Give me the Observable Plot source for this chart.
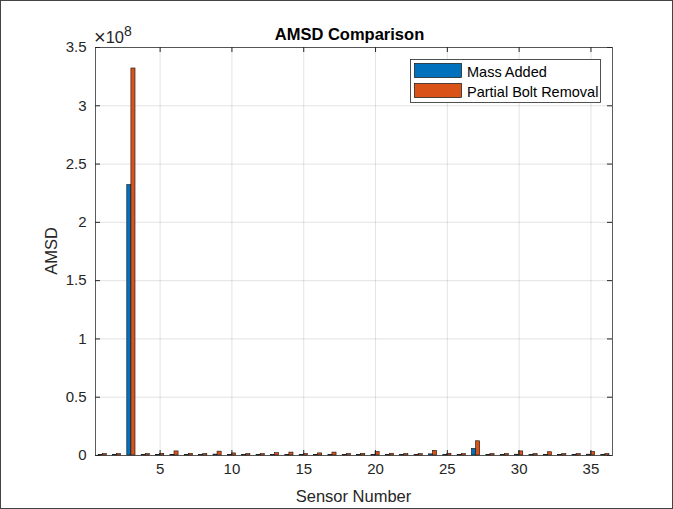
<!DOCTYPE html>
<html><head><meta charset="utf-8">
<script src="https://cdn.jsdelivr.net/npm/d3@7"></script>
<script src="https://cdn.jsdelivr.net/npm/@observablehq/plot@0.6"></script>
<style>
html,body{margin:0;padding:0;background:#fff;}
#chart{width:673px;height:509px;overflow:hidden;}
svg{display:block;}
</style></head><body><div id="chart"></div>
<script>
// ---- data (values in units of 1e8) ----
const sensors = [1,2,3,4,5,6,7,8,9,10,11,12,13,14,15,16,17,18,19,20,21,22,23,24,25,26,27,28,29,30,31,32,33,34,35,36];
const massAdded = [0.003,0.003,2.32,0.003,0.004,0.006,0.003,0.003,0.008,0.004,0.003,0.003,0.004,0.004,0.003,0.003,0.004,0.003,0.003,0.005,0.003,0.003,0.003,0.010,0.004,0.003,0.057,0.003,0.003,0.007,0.003,0.004,0.003,0.003,0.007,0.003];
const partialBoltRemoval = [0.012,0.012,3.32,0.012,0.014,0.035,0.014,0.012,0.033,0.018,0.012,0.012,0.020,0.025,0.012,0.018,0.025,0.012,0.014,0.030,0.015,0.012,0.012,0.040,0.015,0.012,0.122,0.012,0.012,0.035,0.012,0.028,0.012,0.012,0.030,0.012];
const seriesNames = ["Mass Added","Partial Bolt Removal"];
const seriesColors = ["#0072BD","#D95319"];
const exponent = 1e8;
const xTicks = [5,10,15,20,25,30,35];
const yTicks = [0,0.5,1,1.5,2,2.5,3,3.5];
const yTickLabels = ["0","0.5","1","1.5","2","2.5","3","3.5"];

const rows = [];
sensors.forEach((s,i)=>{
  rows.push({sensor:s, series:seriesNames[0], k:0, value:massAdded[i]*exponent});
  rows.push({sensor:s, series:seriesNames[1], k:1, value:partialBoltRemoval[i]*exponent});
});

const W=673, H=509, mL=95, mR=61, mT=47, mB=54;
const pw = W-mL-mR, ph = H-mT-mB;
const barW = 0.286;
const font = "'Liberation Sans', Arial, Helvetica, sans-serif";
const ink = "#262626";

const chart = Plot.plot({
  width:W, height:H, marginLeft:mL, marginRight:mR, marginTop:mT, marginBottom:mB,
  style:{fontFamily:font, fontSize:"15px", color:ink, background:"#fff"},
  x:{domain:[0.5,36.5], label:null},
  y:{domain:[0,3.5*exponent], label:null},
  color:{domain:seriesNames, range:seriesColors},
  marks:[
    Plot.gridX(xTicks,{stroke:ink, strokeOpacity:0.13}),
    Plot.gridY(yTicks.map(v=>v*exponent),{stroke:ink, strokeOpacity:0.13}),
    Plot.rect(rows,{
      x1:d=>d.sensor + (d.k===0 ? -barW : 0),
      x2:d=>d.sensor + (d.k===0 ? 0 : barW),
      y1:()=>0, y2:"value", fill:"series", stroke:"#111", strokeWidth:0.6
    }),
    Plot.frame({stroke:ink, strokeOpacity:0.75}),
    Plot.tickX(xTicks,{x:d=>d, insetTop:ph-5, stroke:ink}),
    Plot.tickX(xTicks,{x:d=>d, insetBottom:ph-5, stroke:ink}),
    Plot.tickY(yTicks,{y:d=>d*exponent, insetRight:pw-5, stroke:ink}),
    Plot.tickY(yTicks,{y:d=>d*exponent, insetLeft:pw-5, stroke:ink}),
    Plot.axisX(xTicks,{tickSize:0, tickPadding:8, fontSize:15, fill:ink}),
    Plot.axisY(yTicks.map(v=>v*exponent),{tickSize:0, tickPadding:9, fontSize:15, fill:ink,
      tickFormat:(d)=>yTickLabels[yTicks.indexOf(Math.round(d/exponent*10)/10)]}),
  ]
});
document.getElementById("chart").appendChild(chart);

const svg = d3.select(chart);
// outer figure border
svg.append("rect").attr("x",0.5).attr("y",0.5).attr("width",W-1).attr("height",H-1)
  .attr("fill","none").attr("stroke","#444").attr("stroke-width",1);
// title
svg.append("text").attr("x",mL+pw/2 - 4).attr("y",40).attr("text-anchor","middle")
  .attr("font-family",font).attr("font-weight","bold").attr("font-size",16.5).attr("fill","#000")
  .text("AMSD Comparison");
// x label
svg.append("text").attr("x",mL+pw/2).attr("y",502).attr("text-anchor","middle")
  .attr("font-family",font).attr("font-size",16.5).attr("fill",ink).text("Sensor Number");
// y label
svg.append("text").attr("transform",`translate(57,${mT+ph/2}) rotate(-90)`).attr("text-anchor","middle")
  .attr("font-family",font).attr("font-size",16.5).attr("fill",ink).text("AMSD");
// exponent
const ex = svg.append("text").attr("x",94).attr("y",43).attr("text-anchor","start")
  .attr("font-family",font).attr("font-size",16.5).attr("fill",ink);
ex.append("tspan").attr("font-size",20).attr("dy",1).text("\u00d7");
ex.append("tspan").attr("dy",-1).text("10");
ex.append("tspan").attr("font-size",14).attr("dy",-7).text("8");
// legend
const lg = svg.append("g").attr("font-family",font).attr("font-size",14.5).attr("fill","#000")
  .attr("text-anchor","start");
lg.append("rect").attr("x",410.5).attr("y",59.5).attr("width",190).attr("height",43)
  .attr("fill","#fff").attr("stroke",ink).attr("stroke-width",0.8);
seriesNames.forEach((n,i)=>{
  const y0 = 63 + i*20;
  lg.append("rect").attr("x",414.5).attr("y",y0+0.5).attr("width",47).attr("height",14)
    .attr("fill",seriesColors[i]).attr("stroke","#111").attr("stroke-width",0.7);
  lg.append("text").attr("x",467).attr("y",y0+13.5).attr("text-anchor","start").text(n);
});
</script></body></html>
